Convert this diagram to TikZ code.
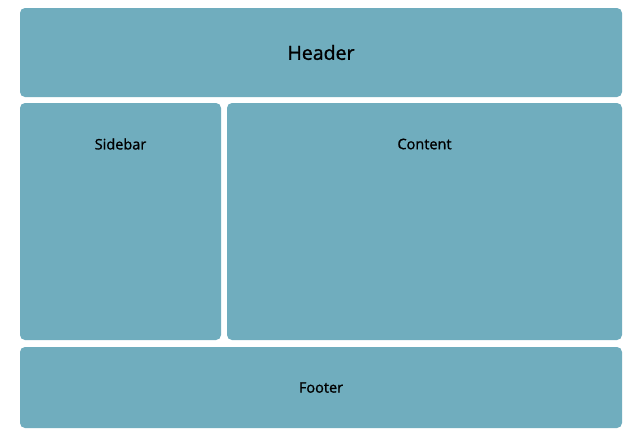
\documentclass[tikz,border=0pt]{standalone}
\usepackage{fontspec}
\setmainfont{Open Sans}[BoldFont={Open Sans},BoldFeatures={FakeBold=1.2}]
\definecolor{panel}{RGB}{112,173,190}
\begin{document}
\begin{tikzpicture}[x=1pt,y=-1pt,
  panelbox/.style={fill=panel,draw=none,rounded corners=5pt},
  lbl/.style={font=\fontsize{14.5}{18}\bfseries,text=black}]
\useasboundingbox (0,0) rectangle (637,439);
\fill[white] (0,0) rectangle (637,439);
\path[panelbox] (20,8) rectangle (622,97);
\path[panelbox] (20,103) rectangle (221,340);
\path[panelbox] (227,103) rectangle (622,340);
\path[panelbox] (20,347) rectangle (622,428);
\node[font=\fontsize{19.5}{23}\bfseries] (header) at (321,52.5) {Header};
\node[lbl] (sidebar) at (120.5,144) {Sidebar};
\node[lbl] (content) at (424.5,144) {Content};
\node[lbl] (footer) at (321,387.5) {Footer};
\end{tikzpicture}
\end{document}
